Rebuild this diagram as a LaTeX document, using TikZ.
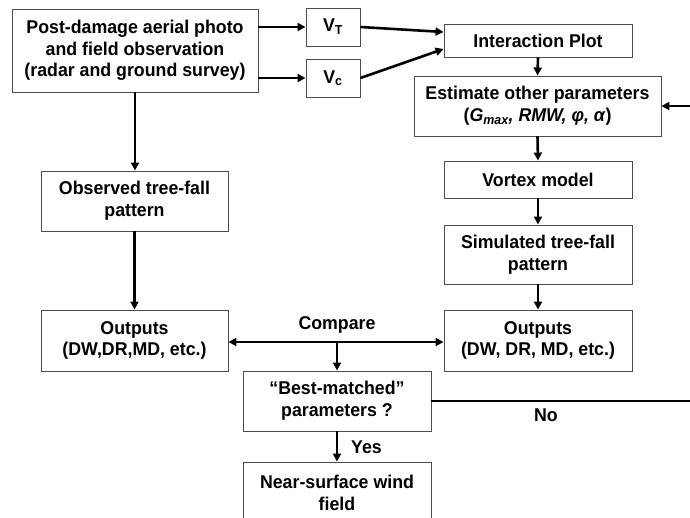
\documentclass[tikz,border=0pt]{standalone}
\usepackage{fontspec}
\setmainfont{Liberation Sans}[FakeStretch=0.96]
\usetikzlibrary{arrows.meta,calc}
\begin{document}
\begin{tikzpicture}[x=1pt,y=-1pt,
  box/.style={draw=black!70,line width=0.9pt,fill=white,inner sep=0pt,align=center,
    font=\fontsize{18.5}{21.7}\selectfont\bfseries},
  lbl/.style={inner sep=0pt,font=\fontsize{18.5}{21.7}\selectfont\bfseries},
  arr/.style={line width=2.6pt,-{Triangle[length=8pt,width=8pt]}},
  arrs/.style={line width=2.6pt,{Triangle[length=8pt,width=8pt]}-{Triangle[length=8pt,width=8pt]}},
  ln/.style={line width=2.6pt}]
\useasboundingbox (0,0) rectangle (690,518);
\clip (0,0) rectangle (690,518);
\node[box,minimum width=246pt,minimum height=83pt] (A) at (135,50.5)
  {Post-damage aerial photo\\and field observation\\(radar and ground survey)};
\node[box,minimum width=54pt,minimum height=38pt] (VT) at (333,27) {V\textsubscript{T}};
\node[box,minimum width=54pt,minimum height=38pt] (VC) at (333,78) {V\textsubscript{c}};
\node[box,minimum width=188pt,minimum height=33pt] (IP) at (538,40.5) {Interaction Plot};
\node[box,minimum width=247pt,minimum height=60pt] (EST) at (537.5,106)
  {Estimate other parameters\\(\textit{G\textsubscript{max}, RMW, φ, α})};
\node[box,minimum width=188pt,minimum height=37pt] (VM) at (538,179.5) {Vortex model};
\node[box,minimum width=188pt,minimum height=59pt] (SIM) at (538,254.5) {Simulated tree-fall\\pattern};
\node[box,minimum width=188pt,minimum height=61pt] (OR) at (538,340.5) {Outputs\\(DW, DR, MD, etc.)};
\node[box,minimum width=187pt,minimum height=60pt] (OBS) at (134.5,201) {Observed tree-fall\\pattern};
\node[box,minimum width=187pt,minimum height=61pt] (OL) at (134.5,340.5) {Outputs\\(DW,DR,MD, etc.)};
\node[box,minimum width=188pt,minimum height=60pt] (BM) at (337,401) {“Best-matched”\\parameters ?};
\node[box,minimum width=188pt,minimum height=62pt] (NS) at (337,493) {Near-surface wind\\field};
\coordinate (J) at (337,342);
\coordinate (R1) at (700,401);
\node[lbl] (CMP) at (337,325) {Compare};
\node[lbl] (NO) at (546,415) {No};
\node[lbl,anchor=west] (YES) at (351,447) {Yes};
% connectors
\draw[arr] (A.east |- VT.west) -- (VT.west);
\draw[arr] (A.east |- VC.west) -- (VC.west);
\draw[arr] (VT.east) -- ($(IP.west)+(0,-8.5)$);
\draw[arr] (VC.east) -- ($(IP.west)+(0,8.5)$);
\draw[arr] (IP.south) -- (EST.north);
\draw[arr] (EST.south) -- (VM.north);
\draw[arr] (VM.south) -- (SIM.north);
\draw[arr] (SIM.south) -- (OR.north);
\draw[arr] (A.south) -- (A.south |- OBS.north);
\draw[arr] (OBS.south) -- (OL.north);
\draw[arrs] (OL.east |- J) -- (OR.west |- J);
\draw[arr] (J) -- (BM.north);
\draw[arr] (BM.south) -- (NS.north);
\draw[arr] (BM.east) -- (R1) |- (EST.east);
\end{tikzpicture}
\end{document}
